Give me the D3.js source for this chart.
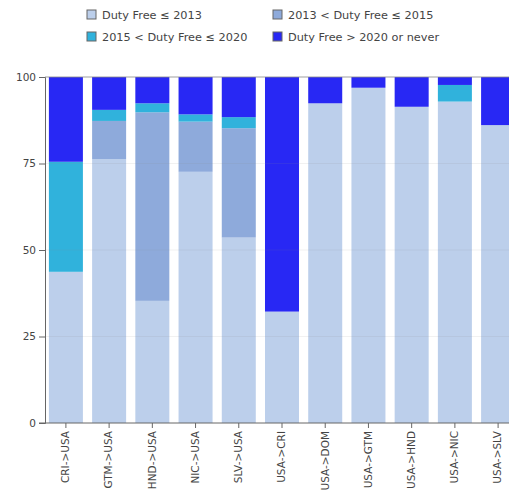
<!DOCTYPE html>
<html>
<head>
<meta charset="utf-8">
<script src="https://cdn.jsdelivr.net/npm/d3@7"></script>
<style>
  body { margin: 0; background: #fff; }
  text { font-family: "DejaVu Sans", Verdana, sans-serif; }
</style>
</head>
<body>
<div id="chartContainer"></div>
<script>
var categories = ["CRI->USA", "GTM->USA", "HND->USA", "NIC->USA", "SLV->USA",
                  "USA->CRI", "USA->DOM", "USA->GTM", "USA->HND", "USA->NIC", "USA->SLV"];
var seriesNames = ["Duty Free \u2264 2013", "2013 < Duty Free \u2264 2015",
                   "2015 < Duty Free \u2264 2020", "Duty Free > 2020 or never"];
var upTo2013 = [43.7, 76.3, 35.3, 72.6, 53.6, 32.2, 92.4, 96.9, 91.4, 92.9, 86.1];
var upTo2015 = [0, 11.0, 54.5, 14.5, 31.6, 0, 0, 0, 0, 0, 0];
var upTo2020 = [31.8, 3.2, 2.6, 2.1, 3.2, 0, 0, 0, 0, 4.8, 0];
var never = [24.5, 9.5, 7.6, 10.8, 11.6, 67.8, 7.6, 3.1, 8.6, 2.3, 13.9];
var yTicks = [0, 25, 50, 75, 100];
var colors = ["#bccfeb", "#8eaadb", "#30b2dc", "#2828f4"];

function init() {
    var w = 509;
    var h = 500;

    var rows = categories.map(function (c, i) {
        return { cat: c, s0: upTo2013[i], s1: upTo2015[i], s2: upTo2020[i], s3: never[i] };
    });
    var stack = d3.stack().keys(["s0", "s1", "s2", "s3"]);
    var layers = stack(rows);

    var xScale = d3.scaleBand()
        .domain(categories)
        .range([45, 519])
        .paddingInner(0.213)
        .paddingOuter(0.09);

    var yScale = d3.scaleLinear()
        .domain([0, 100])
        .range([423, 77]);

    var svg = d3.select("#chartContainer")
        .append("svg")
        .attr("width", w)
        .attr("height", h);

    // bars
    svg.selectAll("g.layer")
        .data(layers)
        .enter()
        .append("g")
        .attr("class", "layer")
        .attr("fill", function (d, i) { return colors[i]; })
        .selectAll("rect")
        .data(function (d) { return d; })
        .enter()
        .append("rect")
        .attr("x", function (d) { return xScale(d.data.cat); })
        .attr("width", xScale.bandwidth())
        .attr("y", function (d) { return yScale(d[1]); })
        .attr("height", function (d) { return yScale(d[0]) - yScale(d[1]); });

    // faint gridlines on top of the bars
    svg.selectAll("line.grid")
        .data(yTicks.slice(1))
        .enter()
        .append("line")
        .attr("class", "grid")
        .attr("x1", 45)
        .attr("x2", w)
        .attr("y1", function (d) { return yScale(d); })
        .attr("y2", function (d) { return yScale(d); })
        .attr("stroke", "#888")
        .attr("stroke-opacity", function (d) { return d === 100 ? 0.8 : 0.12; })
        .attr("stroke-width", 1);

    // axes
    var yAxis = d3.axisLeft(yScale).tickValues(yTicks).tickSize(6).tickPadding(3);
    var gy = svg.append("g")
        .attr("class", "y axis")
        .attr("transform", "translate(45,0)")
        .call(yAxis);
    gy.selectAll("text").attr("font-size", "10.5px").attr("fill", "#444");
    gy.selectAll("line, path").attr("stroke", "#666");

    var xAxis = d3.axisBottom(xScale).tickSize(5).tickSizeOuter(0).tickPadding(3);
    var gx = svg.append("g")
        .attr("class", "x axis")
        .attr("transform", "translate(0,423)")
        .call(xAxis);
    gx.select("path").attr("d", "M39,0H" + w);
    gx.selectAll("line, path").attr("stroke", "#666");
    gx.selectAll("text")
        .attr("font-size", "10.5px")
        .attr("fill", "#444")
        .attr("transform", "rotate(-90)")
        .attr("text-anchor", "end")
        .attr("x", -8)
        .attr("y", 0)
        .attr("dy", "0.32em");

    // legend
    var legendPos = [[87, 15], [273, 15], [87, 37], [273, 37]];
    var legend = svg.selectAll("g.legend")
        .data(seriesNames)
        .enter()
        .append("g")
        .attr("class", "legend")
        .attr("transform", function (d, i) { return "translate(" + legendPos[i][0] + "," + legendPos[i][1] + ")"; });
    legend.append("rect")
        .attr("x", 0)
        .attr("y", -5)
        .attr("width", 9)
        .attr("height", 9)
        .attr("fill", function (d, i) { return colors[i]; })
        .attr("stroke", "#666")
        .attr("stroke-width", 1);
    legend.append("text")
        .attr("x", 15)
        .attr("y", 0)
        .attr("dy", "0.32em")
        .attr("font-size", "11.3px")
        .attr("fill", "#444")
        .text(function (d) { return d; });
}

window.onload = init;
</script>
</body>
</html>
